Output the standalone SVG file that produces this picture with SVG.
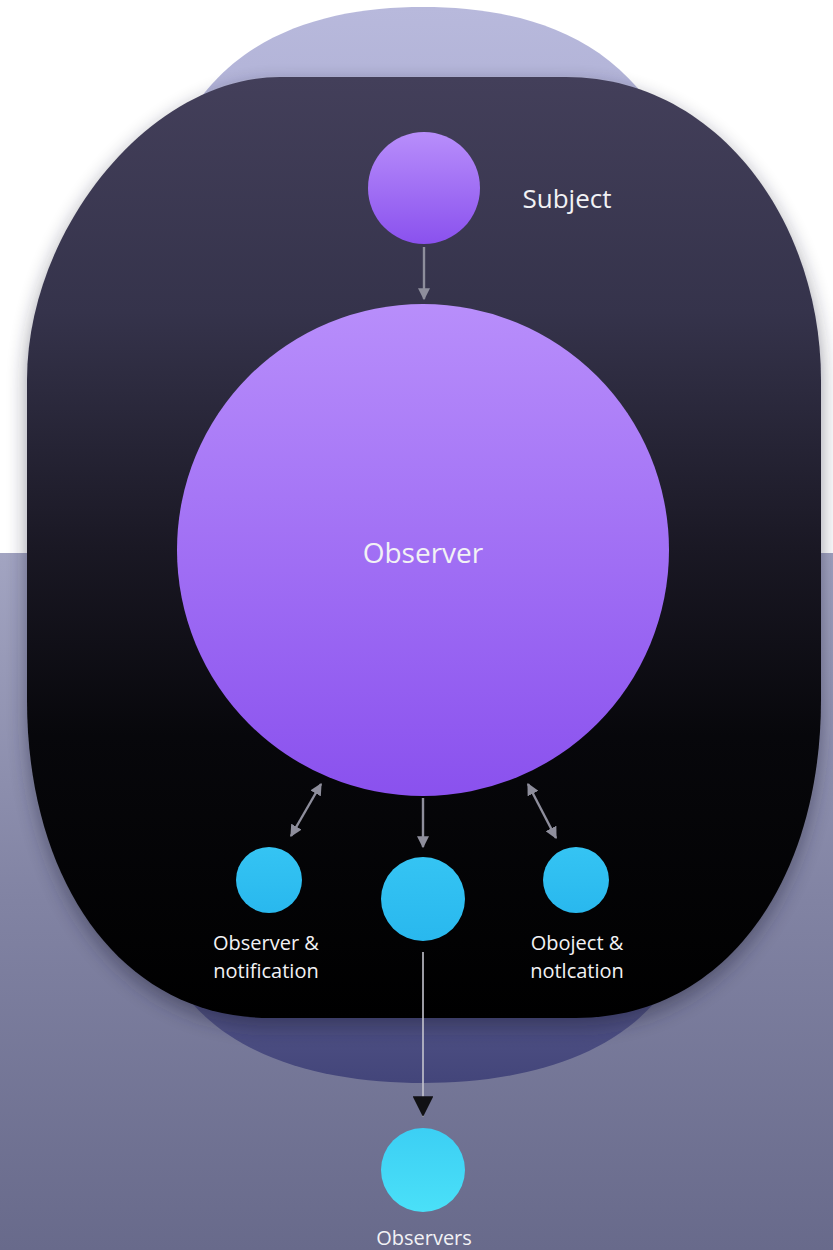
<svg xmlns="http://www.w3.org/2000/svg" width="833" height="1250" viewBox="0 0 833 1250">
<defs>
<linearGradient id="bgLow" x1="0" y1="0" x2="0" y2="1">
<stop offset="0" stop-color="#a2a4c1"/>
<stop offset="0.5" stop-color="#8183a3"/>
<stop offset="1" stop-color="#686a8b"/>
</linearGradient>
<linearGradient id="halo" gradientUnits="userSpaceOnUse" x1="0" y1="7" x2="0" y2="1083">
<stop offset="0" stop-color="#b8b9dc"/>
<stop offset="0.5" stop-color="#9496c0"/>
<stop offset="0.9" stop-color="#56588a"/>
<stop offset="1" stop-color="#43457a"/>
</linearGradient>
<linearGradient id="dark" gradientUnits="userSpaceOnUse" x1="0" y1="77" x2="0" y2="1018">
<stop offset="0" stop-color="#433f5a"/>
<stop offset="0.25" stop-color="#35334b"/>
<stop offset="0.5" stop-color="#1a1824"/>
<stop offset="0.7" stop-color="#07070b"/>
<stop offset="1" stop-color="#000000"/>
</linearGradient>
<linearGradient id="purple" x1="0" y1="0" x2="0" y2="1">
<stop offset="0" stop-color="#b88efb"/>
<stop offset="1" stop-color="#8a51ee"/>
</linearGradient>
<linearGradient id="cyan" x1="0" y1="0" x2="0" y2="1">
<stop offset="0" stop-color="#35c4f3"/>
<stop offset="1" stop-color="#29b8ee"/>
</linearGradient>
<linearGradient id="cyan2" x1="0" y1="0" x2="0" y2="1">
<stop offset="0" stop-color="#3ccff4"/>
<stop offset="1" stop-color="#4ae0f8"/>
</linearGradient>
<filter id="blur" x="-10%" y="-10%" width="120%" height="125%">
<feGaussianBlur stdDeviation="10"/>
</filter>
<path id="darkShape" d="M280,77 L566,77 C716,77 821,220 821,380 L821,700 C821,880 726,1018 576,1018 L270,1018 C120,1018 27,880 27,700 L27,380 C27,230 150,77 280,77 Z"/>
<marker id="ah" viewBox="0 0 10 10" refX="9" refY="5" markerWidth="5" markerHeight="5" orient="auto-start-reverse" markerUnits="strokeWidth">
<path d="M0,0 L10,5 L0,10 Z" fill="#8e8e9c"/>
</marker>
<marker id="ahBlack" viewBox="0 0 10 10" refX="10" refY="5" markerWidth="13" markerHeight="13" orient="auto" markerUnits="strokeWidth">
<path d="M0,0 L10,5 L0,10 Z" fill="#111114"/>
</marker>
<style>
.lbl{font-family:"Open Sans","Liberation Sans",sans-serif;fill:#f2f2f5;text-anchor:middle}
.conn{stroke:#8e8e9c;stroke-width:2.4;fill:none}
</style>
</defs>

<g id="background">
<rect x="0" y="0" width="833" height="553" fill="#ffffff"/>
<rect x="0" y="553" width="833" height="697" fill="url(#bgLow)"/>
<path d="M178,135 C228,32 330,7 423,7 C516,7 618,32 668,135 L668,985 C618,1060 516,1083 423,1083 C330,1083 228,1060 178,985 Z" fill="url(#halo)"/>
<use href="#darkShape" fill="#1a1a30" opacity="0.45" transform="translate(0,8)" filter="url(#blur)"/>
<use href="#darkShape" fill="url(#dark)"/>
</g>

<g id="connectors">
<line class="conn" x1="424" y1="247" x2="424" y2="299" marker-end="url(#ah)"/>
<line class="conn" x1="321" y1="784" x2="291" y2="836" marker-start="url(#ah)" marker-end="url(#ah)"/>
<line class="conn" x1="423" y1="798" x2="423" y2="847" marker-end="url(#ah)"/>
<line class="conn" x1="528" y1="784" x2="556" y2="838" marker-start="url(#ah)" marker-end="url(#ah)"/>
<line x1="423" y1="952" x2="423" y2="1117" stroke="#c4c4ce" stroke-width="1.6" marker-end="url(#ahBlack)"/>
</g>

<g id="subject">
<circle cx="424" cy="188" r="56" fill="url(#purple)"/>
<text class="lbl" x="567" y="208" font-size="26">Subject</text>
</g>

<g id="observer">
<circle cx="423" cy="550" r="246" fill="url(#purple)"/>
<text class="lbl" x="423" y="563" font-size="28">Observer</text>
</g>

<g id="observer-notification">
<circle cx="269" cy="880" r="33" fill="url(#cyan)"/>
<text class="lbl" x="266" y="950" font-size="20">Observer &amp;</text>
<text class="lbl" x="266" y="978" font-size="20">notification</text>
</g>

<g id="middle-node">
<circle cx="423" cy="899" r="42" fill="url(#cyan)"/>
</g>

<g id="object-notification">
<circle cx="576" cy="880" r="33" fill="url(#cyan)"/>
<text class="lbl" x="577" y="950" font-size="20">Oboject &amp;</text>
<text class="lbl" x="577" y="978" font-size="20">notlcation</text>
</g>

<g id="observers">
<circle cx="423" cy="1170" r="42" fill="url(#cyan2)"/>
<text class="lbl" x="424" y="1245" font-size="20">Observers</text>
</g>
</svg>
